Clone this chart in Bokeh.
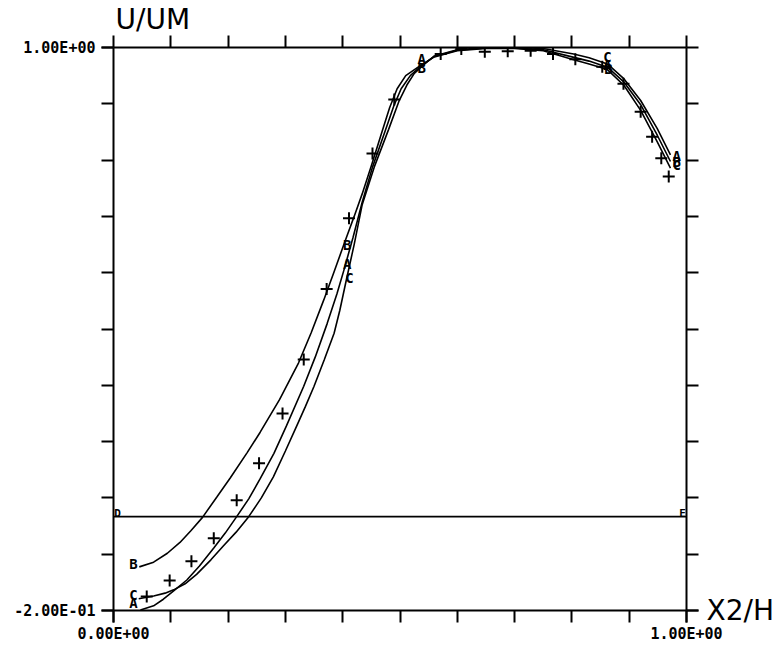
from bokeh.plotting import figure
from bokeh.models import Range1d, LinearAxis, FixedTicker
from bokeh.core.properties import value
from bokeh.embed import file_html
from bokeh.resources import INLINE

# ---- data ----
x_ticks = [0.0, 0.1, 0.2, 0.3, 0.4, 0.5, 0.6, 0.7, 0.8, 0.9, 1.0]
y_ticks = [-0.2, -0.08, 0.04, 0.16, 0.28, 0.4, 0.52, 0.64, 0.76, 0.88, 1.0]
y_tick_labels = {-0.2: "-2.00E-01", 1.0: "1.00E+00"}
x_tick_labels = {0.0: "0.00E+00", 1.0: "1.00E+00"}
x_title = "X2/H"
y_title = "U/UM"

xa = [0.047, 0.070, 0.087, 0.105, 0.128, 0.150, 0.175, 0.195, 0.215, 0.236, 0.256, 0.280,
      0.302, 0.332, 0.352, 0.373, 0.390, 0.402, 0.418, 0.434, 0.452, 0.475, 0.489, 0.502,
      0.518, 0.536, 0.560, 0.600, 0.650, 0.700, 0.750, 0.800, 0.830, 0.862, 0.891, 0.920,
      0.949, 0.972]
ya = [-0.199, -0.190, -0.176, -0.158, -0.135, -0.105, -0.067, -0.035, 0.000, 0.038, 0.081, 0.135,
      0.194, 0.278, 0.340, 0.412, 0.475, 0.525, 0.595, 0.670, 0.745, 0.825, 0.875, 0.912,
      0.940, 0.960, 0.981, 0.994, 0.999, 0.999, 0.995, 0.980, 0.971, 0.958, 0.926, 0.878,
      0.813, 0.757]

xb = [0.045, 0.070, 0.094, 0.116, 0.135, 0.155, 0.181, 0.204, 0.233, 0.256, 0.290, 0.323,
      0.345, 0.367, 0.385, 0.402, 0.420, 0.434, 0.450, 0.469, 0.482, 0.495, 0.510, 0.536,
      0.560, 0.600, 0.650, 0.700, 0.750, 0.800, 0.830, 0.862, 0.891, 0.920, 0.949, 0.972]
yb = [-0.107, -0.097, -0.078, -0.055, -0.030, -0.002, 0.043, 0.083, 0.136, 0.180, 0.250, 0.328,
      0.392, 0.462, 0.522, 0.580, 0.640, 0.688, 0.748, 0.822, 0.872, 0.912, 0.940, 0.962,
      0.980, 0.993, 0.998, 0.998, 0.993, 0.975, 0.965, 0.953, 0.919, 0.866, 0.799, 0.743]

xc = [0.044, 0.070, 0.090, 0.105, 0.125, 0.145, 0.170, 0.192, 0.214, 0.236, 0.258, 0.279,
      0.300, 0.320, 0.335, 0.350, 0.368, 0.385, 0.395, 0.405, 0.420, 0.434, 0.455, 0.480,
      0.498, 0.512, 0.525, 0.540, 0.560, 0.600, 0.650, 0.700, 0.750, 0.803, 0.830, 0.862,
      0.891, 0.920, 0.949, 0.972]
yc = [-0.175, -0.169, -0.163, -0.156, -0.143, -0.123, -0.092, -0.062, -0.033, 0.000, 0.040, 0.085,
      0.140, 0.194, 0.235, 0.278, 0.335, 0.391, 0.440, 0.497, 0.580, 0.665, 0.745, 0.825,
      0.885, 0.920, 0.945, 0.962, 0.982, 0.995, 1.000, 1.000, 0.998, 0.986, 0.978, 0.965,
      0.933, 0.887, 0.827, 0.771]

x_exp = [0.058, 0.098, 0.136, 0.175, 0.215, 0.254, 0.295, 0.332, 0.372, 0.411, 0.452, 0.490,
         0.571, 0.607, 0.648, 0.688, 0.728, 0.767, 0.806, 0.853, 0.890, 0.920, 0.940, 0.956, 0.969]
y_exp = [-0.170, -0.136, -0.095, -0.046, 0.035, 0.114, 0.220, 0.335, 0.485, 0.636, 0.774, 0.889,
         0.986, 0.997, 0.991, 0.992, 0.993, 0.986, 0.975, 0.959, 0.923, 0.863, 0.810, 0.764, 0.725]

curve_label_text = ["B", "C", "A", "B", "A", "C", "A", "B", "C", "A", "B", "A", "B", "C"]
curve_label_x = [0.035, 0.035, 0.035, 0.408, 0.408, 0.412, 0.538, 0.538, 0.862, 0.862, 0.864,
                 0.983, 0.983, 0.983]
curve_label_y = [-0.101, -0.166, -0.185, 0.580, 0.539, 0.508, 0.975, 0.956, 0.979, 0.962, 0.955,
                 0.768, 0.757, 0.750]

zero_line_x = [0.0, 1.0]
zero_line_y = [0.0, 0.0]
zero_label_text = ["D", "E"]
zero_label_x = [0.007, 0.993]
zero_label_y = [0.007, 0.007]

# ---- figure ----
p = figure(width=776, height=645, x_range=Range1d(0, 1), y_range=Range1d(-0.2, 1.0),
           output_backend="svg", toolbar_location=None, title=y_title,
           x_axis_location=None, y_axis_location=None,
           min_border_left=113, min_border_right=90, min_border_top=45, min_border_bottom=32)
p.xgrid.visible = False
p.ygrid.visible = False
p.outline_line_color = None
p.background_fill_color = "white"
p.border_fill_color = "white"

p.title.align = "left"
p.title.text_font = "DejaVu Sans"
p.title.text_font_size = "28px"
p.title.text_font_style = "normal"
p.title.text_color = "black"
p.title.standoff = 0
p.title.offset = 2


def style_axis(ax):
    ax.axis_line_color = "black"
    ax.axis_line_width = 2
    ax.major_tick_out = 12
    ax.major_tick_in = 0
    ax.minor_tick_out = 12
    ax.minor_tick_in = 0
    ax.major_tick_line_color = "black"
    ax.minor_tick_line_color = "black"
    ax.major_tick_line_width = 2
    ax.minor_tick_line_width = 2
    ax.major_label_text_color = "black"


left = LinearAxis(ticker=FixedTicker(ticks=[-0.2, 1.0], minor_ticks=y_ticks))
style_axis(left)
left.major_label_overrides = y_tick_labels
left.major_label_text_font = "DejaVu Sans Mono"
left.major_label_text_font_style = "bold"
left.major_label_text_font_size = "15px"
left.major_label_standoff = 6
p.add_layout(left, "left")

right = LinearAxis(ticker=FixedTicker(ticks=[-0.2], minor_ticks=y_ticks))
style_axis(right)
right.major_label_overrides = {-0.2: x_title}
right.major_label_text_font = "DejaVu Sans"
right.major_label_text_font_size = "28px"
right.major_label_standoff = 8
p.add_layout(right, "right")

top = LinearAxis(ticker=FixedTicker(ticks=[], minor_ticks=x_ticks))
style_axis(top)
p.add_layout(top, "above")

bottom = LinearAxis(ticker=FixedTicker(ticks=[0.0, 1.0], minor_ticks=x_ticks))
style_axis(bottom)
bottom.major_label_overrides = x_tick_labels
bottom.major_label_text_font = "DejaVu Sans Mono"
bottom.major_label_text_font_style = "bold"
bottom.major_label_text_font_size = "15px"
bottom.major_label_standoff = 2
p.add_layout(bottom, "below")

# zero line
p.line(zero_line_x, zero_line_y, line_color="black", line_width=1.6)

# curves
for xs, ys in ((xa, ya), (xb, yb), (xc, yc)):
    p.line(xs, ys, line_color="black", line_width=1.6)

# experimental points
p.scatter(x_exp, y_exp, marker="cross", size=12, line_color="black", line_width=2)

# curve letters
p.text(x=curve_label_x, y=curve_label_y, text=curve_label_text,
       text_font=value("DejaVu Sans Mono"), text_font_style="bold", text_font_size="14px",
       text_align="center", text_baseline="middle", text_color="black")

p.text(x=zero_label_x, y=zero_label_y, text=zero_label_text,
       text_font=value("DejaVu Sans Mono"), text_font_style="bold", text_font_size="11px",
       text_align="center", text_baseline="middle", text_color="black")

open("out.html", "w").write(file_html(p, INLINE))
